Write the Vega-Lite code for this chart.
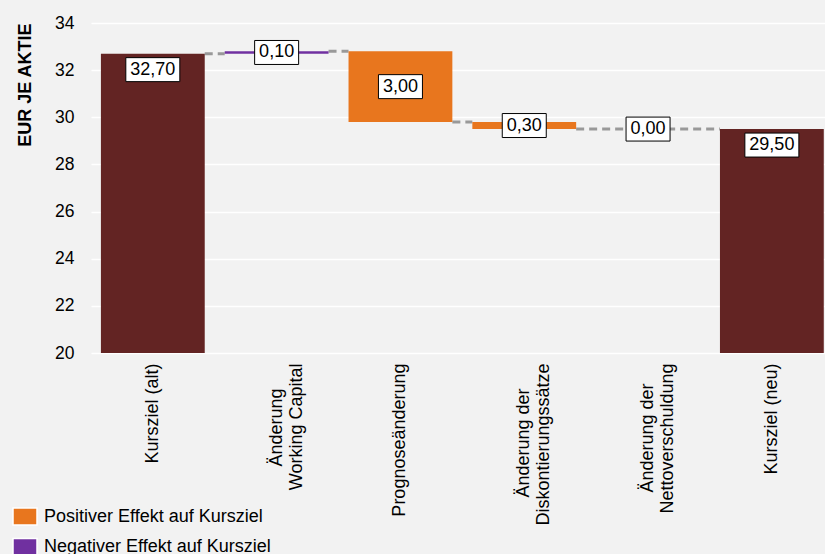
{
  "$schema": "https://vega.github.io/schema/vega-lite/v6.json",
  "width": 734,
  "height": 330,
  "autosize": {"type": "none"},
  "padding": {"left": 91, "top": 23, "right": 0, "bottom": 201},
  "background": "#f2f2f2",
  "config": {"view": {"stroke": null}, "font": "Liberation Sans", "text": {"font": "Liberation Sans"}},
  "data": {
    "values": [
      {"cat": "Kursziel (alt)", "start": 20, "end": 32.7, "label": "32,70", "effect": "Kursziel", "next": "Änderung Working Capital", "kind": "total"},
      {"cat": "Änderung Working Capital", "start": 32.7, "end": 32.8, "label": "0,10", "effect": "Negativer Effekt auf Kursziel", "next": "Prognoseänderung", "kind": "delta"},
      {"cat": "Prognoseänderung", "start": 32.8, "end": 29.8, "label": "3,00", "effect": "Positiver Effekt auf Kursziel", "next": "Änderung der Diskontierungssätze", "kind": "delta"},
      {"cat": "Änderung der Diskontierungssätze", "start": 29.8, "end": 29.5, "label": "0,30", "effect": "Positiver Effekt auf Kursziel", "next": "Kursziel (neu)", "kind": "delta"},
      {"cat": "Änderung der Nettoverschuldung", "start": 29.5, "end": 29.5, "label": "0,00", "effect": "Positiver Effekt auf Kursziel", "next": null, "kind": "delta"},
      {"cat": "Kursziel (neu)", "start": 20, "end": 29.5, "label": "29,50", "effect": "Kursziel", "next": null, "kind": "total"}
    ]
  },
  "encoding": {
    "x": {
      "field": "cat",
      "type": "nominal",
      "scale": {
        "domain": ["Kursziel (alt)", "Änderung Working Capital", "Prognoseänderung", "Änderung der Diskontierungssätze", "Änderung der Nettoverschuldung", "Kursziel (neu)"],
        "paddingInner": 0.1615,
        "paddingOuter": 0.045,
        "align": 0.89
      },
      "axis": {
        "title": null,
        "labelAngle": -90,
        "labelAlign": "right",
        "labelBaseline": "middle",
        "labelFontSize": 18,
        "labelColor": "#000000",
        "labelPadding": 10,
        "labelLimit": 0,
        "ticks": false,
        "domain": false,
        "labelExpr": "indexof(datum.label, 'Working') > 0 ? ['Änderung\u00a0\u00a0\u00a0\u00a0\u00a0\u200b', 'Working Capital'] : indexof(datum.label, 'Diskont') > 0 ? ['Änderung der\u00a0\u00a0\u00a0\u00a0\u00a0\u200b', 'Diskontierungssätze'] : indexof(datum.label, 'Netto') > 0 ? ['Änderung der\u00a0\u00a0\u00a0\u00a0\u200b', 'Nettoverschuldung'] : datum.label"
      }
    }
  },
  "layer": [
    {
      "transform": [{"filter": "datum.next != null"}],
      "mark": {"type": "rule", "color": "#999999", "strokeWidth": 3, "strokeDash": [8, 5]},
      "encoding": {
        "x": {"field": "cat", "type": "nominal", "bandPosition": 1},
        "x2": {"field": "next", "bandPosition": 0},
        "y": {"field": "end", "type": "quantitative"}
      }
    },
    {
      "mark": {"type": "bar", "opacity": 1},
      "encoding": {
        "y": {
          "field": "start",
          "type": "quantitative",
          "scale": {"domain": [20, 34], "zero": false, "nice": false},
          "axis": {
            "values": [20, 22, 24, 26, 28, 30, 32, 34],
            "domain": false,
            "ticks": false,
            "grid": true,
            "gridColor": "#ffffff",
            "gridWidth": 1.5,
            "labelFontSize": 17.5,
            "labelColor": "#000000",
            "labelPadding": 17,
            "title": "EUR JE AKTIE",
            "titleFontSize": 18,
            "titleFontWeight": "bold",
            "titleColor": "#000000",
            "titleAnchor": "end",
            "titlePadding": 20
          }
        },
        "y2": {"field": "end"},
        "color": {
          "field": "effect",
          "type": "nominal",
          "scale": {
            "domain": ["Positiver Effekt auf Kursziel", "Negativer Effekt auf Kursziel", "Kursziel"],
            "range": ["#E8761E", "#7030A0", "#632423"]
          },
          "legend": {
            "values": ["Positiver Effekt auf Kursziel", "Negativer Effekt auf Kursziel"],
            "title": null,
            "orient": "none",
            "legendX": -79,
            "legendY": 480.5,
            "padding": 0,
            "symbolType": "M-1,-0.708L1,-0.708L1,0.708L-1,0.708Z",
            "symbolSize": 576,
            "symbolStrokeColor": "#ffffff",
            "symbolStrokeWidth": 1.5,
            "symbolOpacity": 1,
            "labelFontSize": 18,
            "labelColor": "#000000",
            "labelOffset": 6,
            "labelLimit": 0,
            "rowPadding": 5.5
          }
        }
      }
    },
    {
      "transform": [{"filter": "datum.kind == 'total'"}],
      "mark": {"type": "point", "shape": "M-1,-0.444L1,-0.444L1,0.444L-1,0.444Z", "size": 2916, "filled": true, "fill": "#ffffff", "stroke": "#000000", "strokeWidth": 1, "opacity": 1, "yOffset": 16},
      "encoding": {"y": {"field": "end", "type": "quantitative"}}
    },
    {
      "transform": [{"filter": "datum.kind == 'total'"}],
      "mark": {"type": "text", "fontSize": 18, "color": "#000000", "baseline": "middle", "yOffset": 16},
      "encoding": {"y": {"field": "end", "type": "quantitative"}, "text": {"field": "label"}}
    },
    {
      "transform": [
        {"filter": "datum.kind == 'delta'"},
        {"fold": ["start", "end"], "as": ["bound", "level"]},
        {"aggregate": [{"op": "mean", "field": "level", "as": "mid"}], "groupby": ["cat", "label"]}
      ],
      "layer": [
        {
          "mark": {"type": "point", "shape": "M-1,-0.545L1,-0.545L1,0.545L-1,0.545Z", "size": 1936, "filled": true, "fill": "#ffffff", "stroke": "#000000", "strokeWidth": 1, "opacity": 1},
          "encoding": {"y": {"field": "mid", "type": "quantitative"}}
        },
        {
          "mark": {"type": "text", "fontSize": 18, "color": "#000000", "baseline": "middle"},
          "encoding": {"y": {"field": "mid", "type": "quantitative"}, "text": {"field": "label"}}
        }
      ]
    }
  ]
}
